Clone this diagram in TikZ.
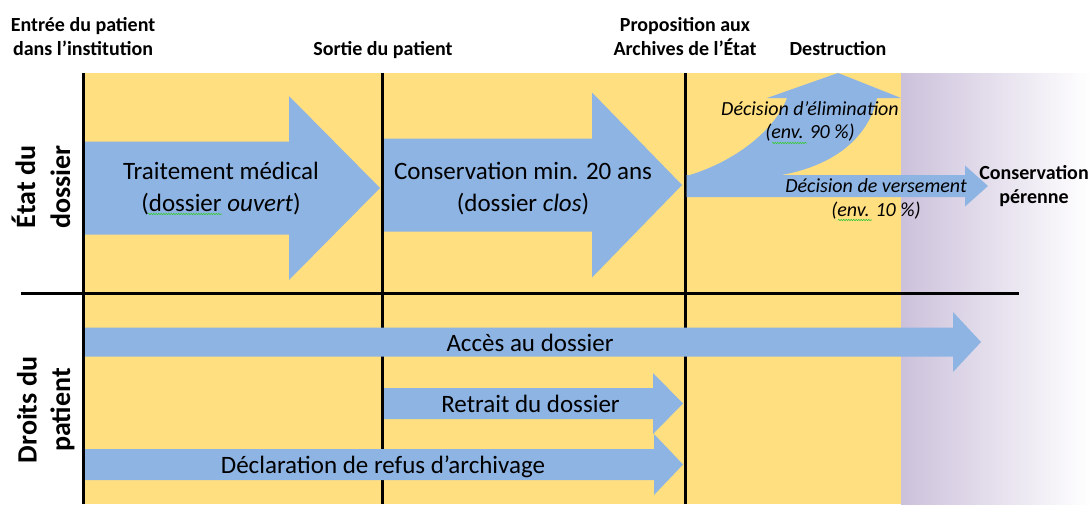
\documentclass[tikz,border=0pt]{standalone}
\usepackage{fontspec}
\setmainfont{Carlito}
\usetikzlibrary{decorations.pathmorphing}
\definecolor{bgyellow}{RGB}{255,223,128}
\definecolor{arrowblue}{RGB}{142,180,227}
\definecolor{lavender}{RGB}{204,193,219}
\definecolor{spellgreen}{RGB}{60,200,60}
% #1 left x, #2 head base x, #3 tip x, #4 centre y, #5 half body, #6 half head
\newcommand\bArrow[6]{%
  \fill[arrowfill] (#1,#4-#5) -- (#2,#4-#5) -- (#2,#4-#6) -- (#3,#4)
    -- (#2,#4+#6) -- (#2,#4+#5) -- (#1,#4+#5) -- cycle;}
\tikzset{
  toplabel/.style={font=\fontsize{20}{24}\selectfont\bfseries, anchor=base, inner sep=0pt},
  arrowtext/.style={font=\fontsize{25}{30}\selectfont, anchor=base, inner sep=0pt},
  decision/.style={font=\fontsize{20}{24}\selectfont\itshape, anchor=base, inner sep=0pt},
  sidelabel/.style={font=\fontsize{28}{34}\selectfont\bfseries, anchor=base, inner sep=0pt, rotate=90},
  vline/.style={line width=3pt},
  arrowfill/.style={fill=arrowblue},
  spell/.style={spellgreen, line width=0.6pt, decorate,
    decoration={snake, amplitude=0.7pt, segment length=2.5pt}}
}
\begin{document}
\begin{tikzpicture}[x=1pt, y=-1pt]
\useasboundingbox (0,0) rectangle (1091,504);
% backgrounds
\fill[bgyellow] (83,73) rectangle (901,504);
\shade[left color=lavender, right color=white] (901,73) rectangle (1091,504);
% grid lines
\coordinate (v1t) at (83,73);  \coordinate (v1b) at (83,504);
\coordinate (v2t) at (382,73); \coordinate (v2b) at (382,504);
\coordinate (v3t) at (685,73); \coordinate (v3b) at (685,504);
\coordinate (hl) at (21,293);  \coordinate (hr) at (1019,293);
\draw[vline] (v1t) -- (v1b);
\draw[vline] (v2t) -- (v2b);
\draw[vline] (v3t) -- (v3b);
\draw[vline] (hl) -- (hr);
% block arrows (upper band)
\bArrow{85}{289}{380}{188}{46.5}{92}
\bArrow{384}{592}{682}{185}{46.5}{92.5}
\bArrow{686.5}{965}{988}{186}{11}{20.5}
% curved arrow towards destruction
\fill[arrowfill] (686.5,176) .. controls (735,162) and (775,130) .. (787,98)
  -- (767,98) -- (838,73) -- (901,98) -- (877,98)
  .. controls (868,140) and (830,168) .. (775,176) -- cycle;
% block arrows (lower band)
\bArrow{85}{953}{981}{342}{14.5}{30}
\bArrow{384}{653}{683}{403.5}{15.5}{30.5}
\bArrow{85}{654}{683}{464.5}{15.5}{30.5}
% top labels
\node[toplabel] (entree1) at (83,31) {Entrée du patient};
\node[toplabel] (entree2) at (83,55) {dans l’institution};
\node[toplabel] (sortie) at (383,55) {Sortie du patient};
\node[toplabel] (prop1) at (685,31) {Proposition aux};
\node[toplabel] (prop2) at (685,55) {Archives de l’État};
\node[toplabel] (destr) at (838,55) {Destruction};
% side labels
\node[sidelabel] (etat1) at (35,187) {État du};
\node[sidelabel] (etat2) at (70,187) {dossier};
\node[sidelabel] (droit1) at (36.5,410) {Droits du};
\node[sidelabel] (droit2) at (70,410) {patient};
% arrow texts
\node[arrowtext] (trait1) at (221,179) {Traitement médical};
\node[arrowtext] (trait2) at (221,211) {(dossier \textit{ouvert})};
\node[arrowtext] (cons1) at (523,179) {Conservation min. 20 ans};
\node[arrowtext] (cons2) at (523,211) {(dossier \textit{clos})};
\node[arrowtext] (acces) at (530,351) {Accès au dossier};
\node[arrowtext] (retrait) at (530.5,412) {Retrait du dossier};
\node[arrowtext] (refus) at (383,473) {Déclaration de refus d’archivage};
% decisions
\node[decision] (elim1) at (810,115) {Décision d’élimination};
\node[decision] (elim2) at (810,138) {(env. 90 \%)};
\node[decision] (vers1) at (876,192) {Décision de versement};
\node[decision] (vers2) at (876,216) {(env. 10 \%)};
\node[toplabel] (perenne1) at (1034,179) {Conservation};
\node[toplabel] (perenne2) at (1034,203) {pérenne};
% spell-check marks
\draw[spell] (148,214) -- (222,214);
\draw[spell] (772,143) -- (807,143);
\draw[spell] (838,220) -- (872,220);
\end{tikzpicture}
\end{document}
